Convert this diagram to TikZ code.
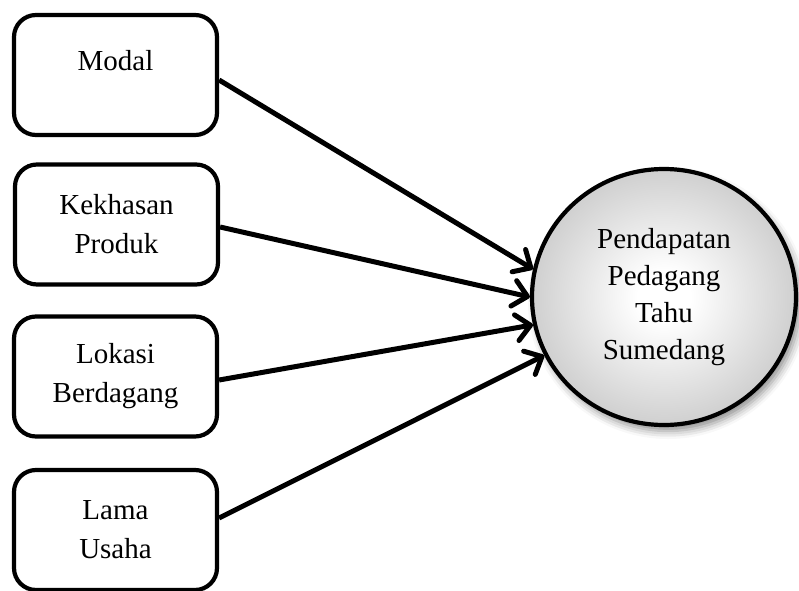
\documentclass[tikz,border=0pt]{standalone}
\usepackage{fontspec}
\setmainfont{Liberation Serif}
\usetikzlibrary{shapes.geometric,arrows.meta,calc,shadows.blur}
\pgfdeclareradialshading{bola}{\pgfpoint{0bp}{0bp}}{color(0bp)=(white); color(5bp)=(white); color(50bp)=(black!42)}
\begin{document}
\begin{tikzpicture}[x=0.5pt,y=-0.5pt,
    faktor/.style={draw,line width=2.1pt,rounded corners=11pt,minimum width=101.5pt,
      minimum height=60pt,align=center,font=\fontsize{14.5}{19.5}\selectfont},
    hasil/.style={ellipse,draw,line width=2.1pt,minimum width=132pt,minimum height=128pt,
      inner sep=0pt,align=center,font=\fontsize{14.5}{18.5}\selectfont,shade,shading=bola,
      blur shadow={shadow xshift=2pt,shadow yshift=-3pt,shadow blur radius=4pt,shadow opacity=45}},
    panah/.style={line width=2.5pt,-{Straight Barb[length=7pt,width=13pt,round]},
      preaction={draw,opacity=0.18,transform canvas={shift={(1.5pt,-1.5pt)}}}}]
  \useasboundingbox (0,0) rectangle (799,590);
  \node[faktor,text height=10pt,text depth=15pt] (m1) at (115.5,75) {Modal};
  \node[faktor] (m2) at (116.5,224.5) {Kekhasan\\Produk};
  \node[faktor] (m3) at (115.5,376.5) {Lokasi\\Berdagang};
  \node[faktor] (m4) at (115.5,530) {Lama\\Usaha};
  \node[hasil] (c) at (664,297) {Pendapatan\\Pedagang\\Tahu\\Sumedang};
  \begin{scope}[panah]
    \draw ($(m1.east)+(0,5)$) to (c.168);
    \draw ($(m2.east)+(0,2.5)$) to (c.180);
    \draw ($(m3.east)+(0,3.5)$) to (c.192);
    \draw ($(m4.east)+(0,-12)$) to (c.206);
  \end{scope}
\end{tikzpicture}
\end{document}
